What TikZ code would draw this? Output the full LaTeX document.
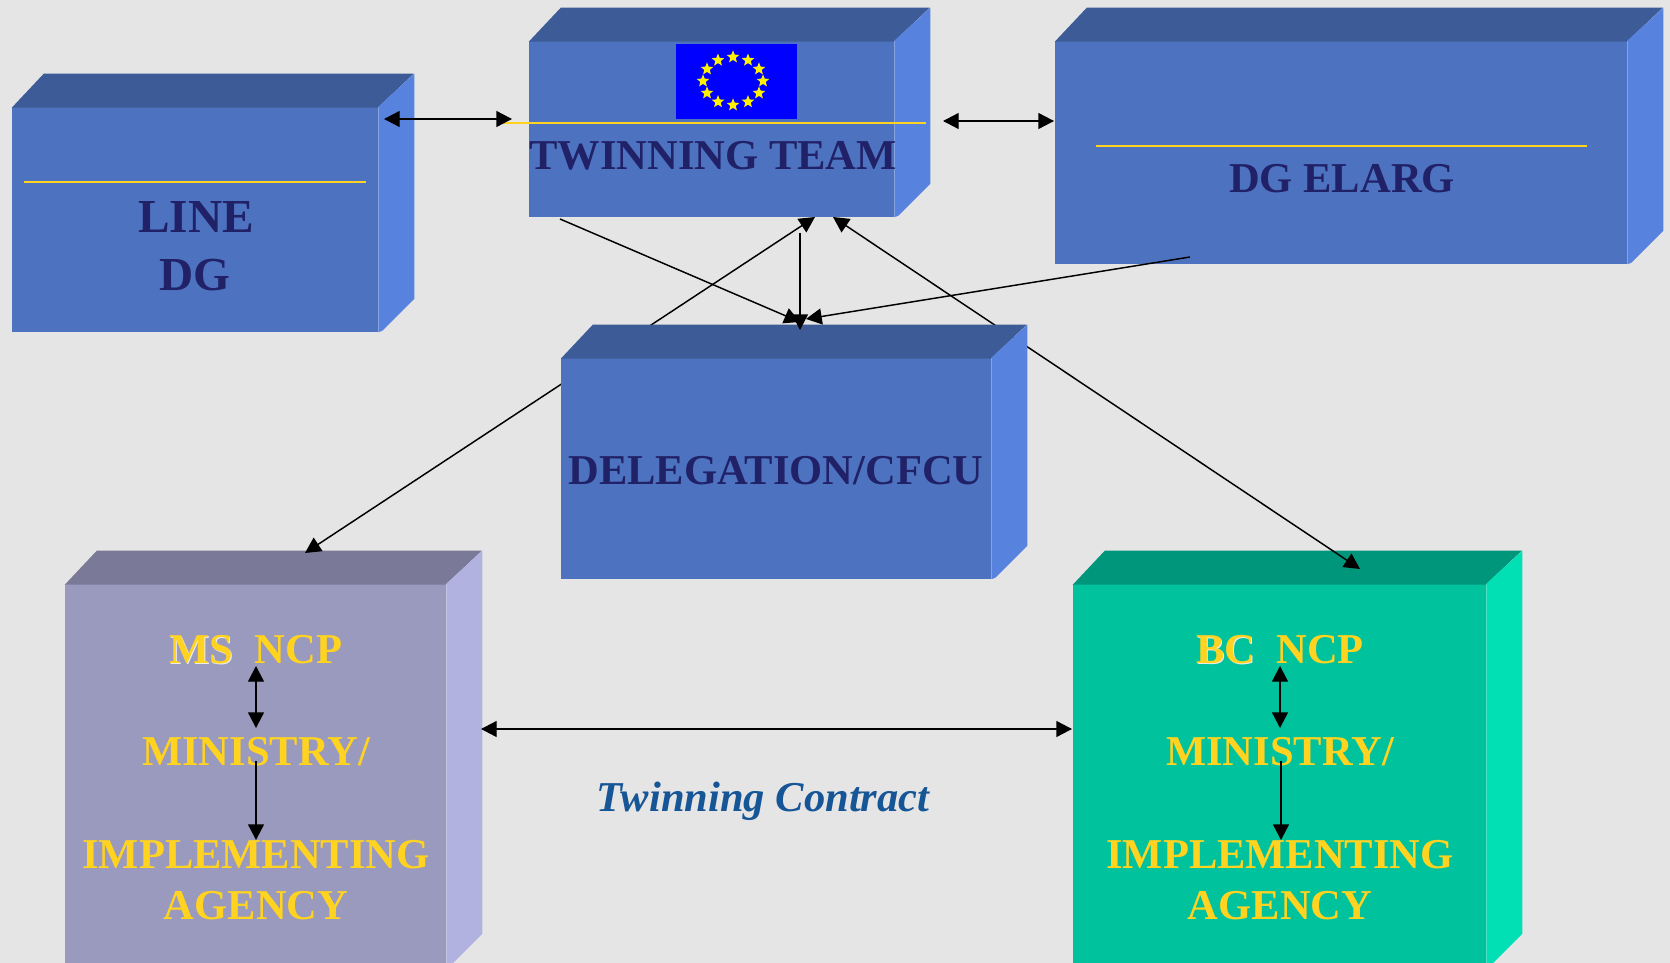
\documentclass[tikz,border=0pt]{standalone}
\usepackage{fontspec}
\setmainfont{Liberation Serif}
\usepackage{tikz}
\usetikzlibrary{positioning, shapes.geometric, arrows.meta}
\definecolor{pagegray}{HTML}{E5E5E5}
\definecolor{bluefront}{HTML}{4D72C0}
\definecolor{bluetop}{HTML}{3D5B96}
\definecolor{blueside}{HTML}{5782DE}
\definecolor{msfront}{HTML}{9A9ABE}
\definecolor{mstop}{HTML}{7A7A98}
\definecolor{msside}{HTML}{B2B2E0}
\definecolor{bcfront}{HTML}{00C29C}
\definecolor{bctop}{HTML}{00967C}
\definecolor{bcside}{HTML}{00E0B4}
\definecolor{navytext}{HTML}{212168}
\definecolor{goldtext}{HTML}{FFD320}
\definecolor{contracttext}{HTML}{165596}
% name, centre x, centre y, width, height, palette
\newcommand{\solidbox}[6]{
    \node (#1) [rectangle, inner sep=0pt, fill=#6front, minimum width=#4*0.75pt, minimum height=#5*0.75pt] at (#2,#3) {};
    \fill [#6top] (#1.north west) ++(0,1) -- ++(32,-34) -- ++(#4+4,0) -- ++(-36,34) -- cycle;
    \fill [#6side] (#1.north east) -- ++(36,-33) -- ++(0,#5) -- ++(-32,32) -- (#1.south east) -- cycle;
}
\newcommand{\ghosted}[1]{\rlap{\kern0.8pt\raisebox{-0.8pt}{\textcolor{white!85!gray}{#1}}}#1}
\begin{document}
\begin{tikzpicture}[
        x=0.75pt, y=-0.75pt,
        title/.style={anchor=base, inner sep=0pt, font=\fontsize{31.9}{32}\selectfont\bfseries, text=navytext},
        bigtitle/.style={title, font=\fontsize{35.5}{36}\selectfont\bfseries},
        gold/.style={title, text=goldtext},
        rule/.style={draw=goldtext, line width=1.3pt},
        arrow/.style={line width=1.1pt,->,>={Triangle[length=11.8pt,width=12pt]}},
        twoway/.style={arrow,<->}
    ]
    \useasboundingbox (0,0) rectangle (1670,963);
    \clip (0,0) rectangle (1670,963);
    \fill [pagegray] (0,0) rectangle (1670,964);

    % Boxes
    \solidbox{linedg}{195}{219.5}{366}{225}{blue}
    \solidbox{twinning}{711.5}{129}{365}{176}{blue}
    \solidbox{elarg}{1341}{152.5}{572}{223}{blue}
    \solidbox{msbox}{255.5}{775.5}{381}{383}{ms}
    \solidbox{bcbox}{1279.5}{775.5}{413}{383}{bc}

    % Free ends
    \coordinate (linedgport) at (384,119);
    \coordinate (twinleft) at (512,119);
    \coordinate (twinright) at (943,121);
    \coordinate (elargport) at (1054,121);
    \coordinate (twinout) at (560,219);
    \coordinate (twinms) at (815,217);
    \coordinate (twinbc) at (833,217);
    \coordinate (twindown) at (800,233);
    \coordinate (elargout) at (1190,257);
    \coordinate (msin) at (305,553);
    \coordinate (bcin) at (1360,569);
    \coordinate (delegin) at (800,322);
    \coordinate (delegvert) at (800,330);
    \coordinate (delegright) at (806,319);
    \coordinate (mswall) at (481,729);
    \coordinate (bcwall) at (1072,729);
    \coordinate (msncp) at (256,666);
    \coordinate (msmin) at (256,728);
    \coordinate (msminb) at (256,761);
    \coordinate (msimpl) at (256,840);
    \coordinate (bcncp) at (1280,666);
    \coordinate (bcmin) at (1280,728);
    \coordinate (bcminb) at (1281,761);
    \coordinate (bcimpl) at (1281,840);

    % Rules
    \coordinate (ruleaa) at (24,182);
    \coordinate (ruleab) at (366,182);
    \coordinate (ruleba) at (500,123);
    \coordinate (rulebb) at (926,123);
    \coordinate (ruleca) at (1096,146);
    \coordinate (rulecb) at (1587,146);
    \draw [rule] (ruleaa) -- (ruleab);
    \draw [rule] (ruleba) -- (rulebb);
    \draw [rule] (ruleca) -- (rulecb);

    % Flag
    \node (flag) [rectangle, inner sep=0pt, fill=blue, minimum width=121*0.75pt, minimum height=75*0.75pt] at (736.5,81.5) {};
    \foreach \i in {0,...,11}
        \node (star\i) [star, star points=5, star point ratio=2.3, inner sep=0pt, minimum size=10pt, fill=yellow]
            at ({733+30*cos(\i*30)},{81+24*sin(\i*30)}) {};

    % Arrows behind the delegation box
    \draw [twoway] (twinms) -- (msin);
    \draw [twoway] (twinbc) -- (bcin);

    \solidbox{delegation}{776}{468.5}{430}{221}{blue}

    % Arrows
    \draw [twoway] (linedgport) -- (twinleft);
    \draw [twoway] (twinright) -- (elargport);
    \draw [arrow] (twinout) -- (delegin);
    \draw [arrow] (twindown) -- (delegvert);
    \draw [arrow] (elargout) -- (delegright);
    \draw [twoway] (mswall) -- (bcwall);

    % Labels
    \node (linelabel) [bigtitle] at (196,233) {LINE};
    \node (dglabel) [bigtitle] at (195,290) {DG};
    \node (twinlabel) [title] at (713,170) {TWINNING TEAM};
    \node (elarglabel) [title] at (1342,193) {DG ELARG};
    \node (deleglabel) [title] at (776,484) {DELEGATION/CFCU};
    \node (contract) [title, text=contracttext, font=\fontsize{31.9}{32}\selectfont\bfseries\itshape] at (763,811) {Twinning Contract};

    \node (msa) [gold] at (256,663) {\ghosted{MS}\ \ NCP};
    \node (msb) [gold] at (256,765) {MINISTRY/};
    \node (msc) [gold] at (256,868) {IMPLEMENTING};
    \node (msd) [gold] at (256,919) {AGENCY};
    \node (bca) [gold] at (1280,663) {\ghosted{BC}\ \ NCP};
    \node (bcb) [gold] at (1280,765) {MINISTRY/};
    \node (bcc) [gold] at (1280,868) {IMPLEMENTING};
    \node (bcd) [gold] at (1280,919) {AGENCY};

    % Arrows inside the lower boxes
    \draw [twoway] (msncp) -- (msmin);
    \draw [arrow] (msminb) -- (msimpl);
    \draw [twoway] (bcncp) -- (bcmin);
    \draw [arrow] (bcminb) -- (bcimpl);

    \end{tikzpicture}
\end{document}
